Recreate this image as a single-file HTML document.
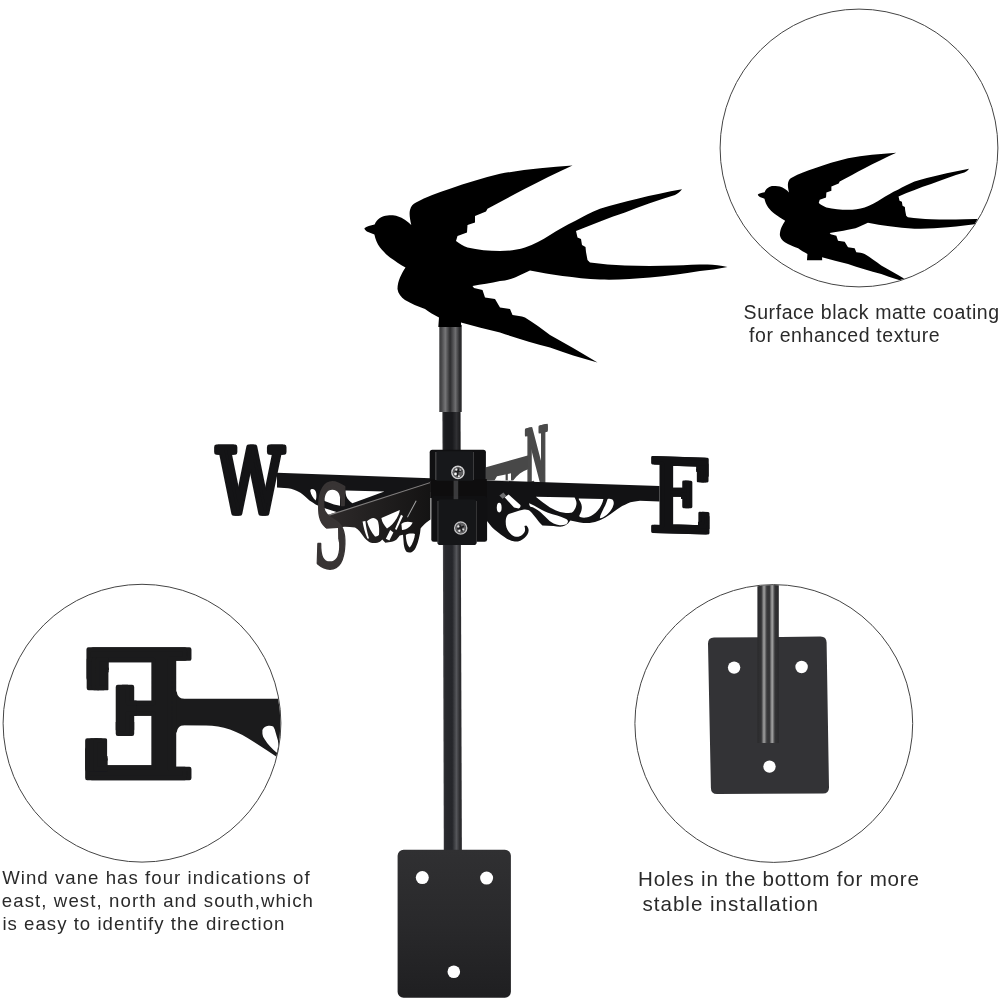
<!DOCTYPE html>
<html lang="en">
<head>
<meta charset="utf-8">
<title>Swallow Weather Vane</title>
<style>
html,body{margin:0;padding:0;background:#fff;}
body{width:1000px;height:1000px;position:relative;overflow:hidden;font-family:"Liberation Sans",sans-serif;color:#2a2a2a;}
#art{will-change:transform;position:absolute;left:0;top:0;width:1000px;height:1000px;display:block;}
.cap{will-change:transform;position:absolute;left:0;top:0;margin:0;white-space:nowrap;line-height:1;}
.cap span{position:absolute;display:block;white-space:pre;line-height:1;}
</style>
</head>
<body>
<svg id="art" width="1000" height="1000" viewBox="0 0 1000 1000">
<defs>
<path id="bird" d="M364.4 228.3 C366.500 226.600 370.500 225.400 374.600 224.600 C377 219 382 215.5 387.5 215.5 C392 215 395 215.5 397.5 216.25 C403 218 408 221.5 411.25 225 C410 219 409 214 410 210 C411 206 413 204 416 202.5 C426 197 438 192.5 450 188.75 C466 183 483 178 500 173.75 C524 169.5 548 167 572.5 165.5 C556 173 540 181 525 188.75 C512 195.5 500 202 487.5 208.75 L486 211.5 L475 216 L475 222.5 L467.5 225 L467 232.5 L457.5 236 L456 241 C460 244 463 246 467.5 247.5 C478 250 489 251 500 251 C509 251 517 250 525 247.5 C534 244.5 542 240 550 235 C558 230 566 225 575 221 C583 216.5 591 212.5 600 208.75 C612 205 625 201.5 637.5 198.75 C652 195 667 192 682 189.25 C680 192 678 193.5 675 195 C658 200 641 206 625 212.5 C608 218 592 224.5 576 231 L577.5 237.5 L581 239 L582 245 L585.5 247 L586 252 L587.5 260 L590 262.5 C602 264 613 265 625 265.5 C641 266 658 266 675 265.5 C686 265 697 264.5 707.5 264.5 C714 264.5 721 265.5 727.5 267 C718 269 709 270 700 271 C683 274 667 276 650 277.5 C633 279 617 280 600 279.5 C587 279 575 277.5 562.5 276 C551 274.5 541 272.5 530 270.5 C525 272.5 520 275.5 515 277.5 C510 279.5 505 280.5 500 281 C491 283 481 284.5 472.5 286 L474 288 L482.5 290 L485 297.5 L495 299 L500 307.5 L510 309 L512.5 315 C517 315.5 521 316 525 317.5 C534 323 542 329 550 335 C566 344 582 353 597.5 362.5 C581 358 565 353 550 347.5 C533 343 516 338 500 332.5 C487 329.5 474 326 461 322.5 L461.2 327 L438.3 327 L439 317.5 C434 315 429 312 425 309 C418 306.5 411 303.5 405 300 C401 297 398 293.5 397.5 289 C397.5 285 398.5 281 400 277.5 C401.5 274 403.5 270.5 405.5 267.5 C400 264.5 395 261 390 257.5 C386 254.5 383 251 380 247.5 C377 243.5 375.400 239.500 374.400 234.600 L367.400 231.800 C365.600 230.800 364.600 229.600 364.400 228.300 Z"/>
<linearGradient id="gpole" x1="0" x2="1" y1="0" y2="0">
<stop offset="0" stop-color="#2a2a2c"/>
<stop offset="0.18" stop-color="#333335"/>
<stop offset="0.31" stop-color="#a2a2a2"/>
<stop offset="0.44" stop-color="#3a3a3c"/>
<stop offset="0.56" stop-color="#333335"/>
<stop offset="0.69" stop-color="#a8a8a8"/>
<stop offset="0.82" stop-color="#333335"/>
<stop offset="1" stop-color="#2a2a2c"/>
</linearGradient>
<linearGradient id="gsleeve" x1="0" x2="1" y1="0" y2="0">
<stop offset="0" stop-color="#3a3a3c"/>
<stop offset="0.1" stop-color="#48484a"/>
<stop offset="0.27" stop-color="#757577"/>
<stop offset="0.48" stop-color="#2c2c2e"/>
<stop offset="0.72" stop-color="#6e6e70"/>
<stop offset="0.9" stop-color="#2d2d2f"/>
<stop offset="1" stop-color="#2a2a2c"/>
</linearGradient>
<linearGradient id="gmain" x1="0" x2="1" y1="0" y2="0">
<stop offset="0" stop-color="#56565a"/>
<stop offset="0.12" stop-color="#292a2e"/>
<stop offset="0.5" stop-color="#25262a"/>
<stop offset="0.72" stop-color="#55565a"/>
<stop offset="0.9" stop-color="#2a2a2d"/>
<stop offset="1" stop-color="#303033"/>
</linearGradient>
<linearGradient id="gplate" x1="0" x2="0" y1="0" y2="1"><stop offset="0" stop-color="#303032"/><stop offset="0.5" stop-color="#29292b"/><stop offset="1" stop-color="#1f1f21"/></linearGradient>
<linearGradient id="gsouth" gradientUnits="userSpaceOnUse" x1="322" x2="431" y1="0" y2="0"><stop offset="0" stop-color="#302c2c"/><stop offset="0.5" stop-color="#211f1f"/><stop offset="1" stop-color="#141313"/></linearGradient>
<clipPath id="c1"><circle cx="859" cy="148" r="138.4"/></clipPath>
<clipPath id="k1"><rect x="80" y="656" width="28.400" height="37.500"/></clipPath>
<clipPath id="k2"><rect x="80" y="735" width="27.300" height="40"/></clipPath>
<clipPath id="k3"><rect x="115" y="683" width="21.500" height="57"/></clipPath>
<clipPath id="k4"><rect x="115" y="722" width="20.200" height="20"/></clipPath>
<clipPath id="k5"><rect x="696.500" y="463" width="15" height="20.500"/></clipPath>
<clipPath id="k6"><rect x="698" y="509" width="14" height="20"/></clipPath>
<clipPath id="k7"><rect x="681" y="479.300" width="12.200" height="31.500"/></clipPath>
<clipPath id="c2"><circle cx="142" cy="723.2" r="138.4"/></clipPath>
<clipPath id="c3"><circle cx="773.8" cy="723.5" r="138.4"/></clipPath>
</defs>

<!-- main pole -->
<path d="M442.500 410 L460.400 410 L461.900 852 L443.800 852 Z" fill="url(#gmain)"/>
<path d="M442.500 411.500 L460.400 411.500 L460.550 451 L442.650 451 Z" fill="#0c0c0e" opacity="0.5"/>
<rect x="439.3" y="325" width="22.4" height="87" fill="url(#gsleeve)"/>
<!-- base plate -->
<rect x="397.6" y="849.7" width="113.3" height="148.1" rx="6" fill="url(#gplate)"/>
<circle cx="422.3" cy="877.6" r="6.5" fill="#fff"/>
<circle cx="486.6" cy="878.1" r="6.5" fill="#fff"/>
<circle cx="453.8" cy="971.7" r="6.3" fill="#fff"/>
<!-- ===== weather vane arms ===== -->
<g id="vane">
<!-- north arm (far, grey) -->
<g id="north">
<path d="M486 467.2 L528.6 455.2 L528.6 469 C522 471.5 517 475 513.2 480.4 L486 480.4 Z" fill="#484848"/>
<path d="M497 476.2 L505.6 474.6 L505.6 480.4 L494.5 480.4 Z M507.8 474 L511 473.2 L511 480.4 L507.8 480.4 Z" fill="#fff"/>
<text id="ltrN" transform="matrix(0.1295 -0.0285 0 0.40 524.35 489)" font-family="DejaVu Serif, Liberation Serif, serif" font-size="200" fill="#4a4a4a" stroke="#4a4a4a" stroke-width="10" stroke-linejoin="round">N</text>
<use href="#ltrN" transform="translate(1.50 -0.30)"/>
</g>
<!-- west arm -->
<g id="west" fill="#141416">
<path d="M277 472.8 L430.5 478.2 L430.5 492 L340 513 C330 510 322 507.4 315.6 504.4 C312 502.4 309.6 500.6 308.4 499.6 C304.6 495.6 301.6 493.4 300 492.4 C296 490.2 292 488.7 288 488.2 L277 487.4 Z"/>
<path d="M345.4 490.6 L384.4 491.4 L352.4 503.2 C349.500 501.500 347.400 499 346.200 496 C345.600 494 345.300 492.200 345.400 490.600 Z" fill="#fff"/>
<path d="M322 488 L340 488 L340 505.800 L334 504.600 L324.600 501 Z" fill="#fff"/>
<path d="M311.2 489.2 C313.5 488.6 315.6 490 316.2 493 C316.6 496 316.4 498.6 315.6 500.4 C313 498 311 494.5 310.4 491.4 C310.2 490.2 310.5 489.5 311.2 489.2 Z" fill="#fff"/>
<text id="ltrW" transform="matrix(0.326 0 0 0.453 215.8 513.1)" font-family="DejaVu Serif, Liberation Serif, serif" font-size="200" stroke="#141416" stroke-width="12" stroke-linejoin="round">W</text>
<use href="#ltrW" transform="translate(2 0)"/>
</g>
<!-- east arm -->
<g id="east" fill="#121214">
<path d="M486 480.4 L659.5 486 L659.5 501.4 L640 500.8 C635 501.2 631 502 628 503.2 C624 505 620 507 617.2 509.2 L610 514.6 C607 516.8 604 518.6 600.4 520 C597 521.6 593 522.6 589.6 523 C586 523.2 583 523 580 522.4 L570.4 520.6 L568 523.6 C566 525.2 564 526.2 562 526.6 C559 526.8 556 526.4 553.6 526 L542.4 525.4 C540 523 538 521 536 518 C534 515.5 532.5 513.5 531 512 C529 510 527 509.4 524 509.6 L519.6 510.4 L508.8 514 C507 515 506 517.5 505.8 520 C505.6 523 505.8 525 506.4 527.2 C507.5 530 508.5 531.6 510 533.2 C512 535.4 514 536.6 516 536.8 C518.5 537 520.5 536.3 522 535 C523.5 534 524.6 532.5 525 530.8 C525.2 529 525 527.5 524.4 526 L526.2 525.4 C528 527 528.8 528.8 528.6 530.8 C528.4 533.5 527 536 524.4 538 C521.5 540.5 518.5 541.8 514.8 541.6 C511 541 507 539.2 504 536.8 C499.5 533.5 495.5 530.5 492 527.2 L487.2 521.2 L486 521 Z"/>
<g fill="#fff">
<path d="M535.8 496.8 L574.6 497.6 C576 500 576.8 502.4 576.4 504.4 C576 507 575 509 574 510.4 C573 511.8 571.8 512.6 570.4 512.8 C568.4 513.1 566.4 513.1 564.4 512.8 C561.5 512.3 558.6 511.4 556 510.4 C553.9 509.5 551.9 508.5 550 507.4 C545.4 504.6 540.6 501 535.8 496.8 Z"/>
<path d="M578.8 498.4 L603.4 499 C603.1 501 602.5 502.8 601.6 504.4 C600 507.8 598 510.6 595.6 512.8 C592.6 515.4 589.4 517 586 517.6 C584 517.9 582 517.7 580 517 C579.3 516.6 579.2 516 579.4 515.2 C581 512.6 581.9 509.8 581.8 506.8 C581.6 504.2 580.6 501.8 578.8 499.6 Z"/>
<path d="M607.6 499 C609.4 498.6 611 498.8 612.4 499.6 C613.6 500.8 614 502.4 613.6 504.4 C612.9 507 611.7 509.4 610 511.6 C607.9 514.2 605.5 516.2 602.8 517.6 C601.7 518.1 600.7 518.3 599.8 518.2 C600 516.4 600.6 514.6 601.6 512.8 C602.6 510.4 603.8 508 605.2 505.6 C606 503.6 606.8 501.4 607.6 499 Z"/>
<path d="M529.200 503.200 L534 505.400 L541 509.500 C543.400 510.800 545.600 512 548 512.800 C551 514 554 514.800 557.200 515.600 C560 516.400 563 517.400 565.600 518.800 C567 519.400 567.800 520.200 568 521.200 C567.800 522.800 567 524 565.600 524.600 C563.600 525.200 561.600 525.400 559.600 525.200 C557.400 525 555.400 524.400 553.600 523.600 C552.200 522.800 550.800 522 549.600 521 L545 516.500 L540 511.800 C538.400 510.400 536.800 509.200 535 508.400 C533.600 507.600 532 507 530.400 506.800 C529.400 505.600 529 504.400 529.200 503.200 Z"/>
<ellipse cx="499.2" cy="507.6" rx="2.4" ry="4.8"/>
<path d="M504.6 497.2 L508.6 494.6 L520.4 505 C520.8 506.6 520.2 507.8 518.6 508.4 L514 507.6 Z"/>
</g>
<path d="M499.4 495.6 L503.4 492.6 L506.4 496 L502.6 498.8 Z" fill="#6e6e70"/>
<text id="ltrE" transform="matrix(0.451 0.014 0 0.5066 647.4 531.3)" font-family="DejaVu Serif, Liberation Serif, serif" font-size="200" stroke="#121214" stroke-width="6" stroke-linejoin="round">E</text>
<use href="#ltrE" transform="translate(2.00 0.00)"/>
<rect x="689.4" y="477" width="12.4" height="32" fill="#fff"/>
<g clip-path="url(#k5)"><use href="#ltrE" transform="translate(-2.00 5.20)"/><use href="#ltrE" transform="translate(0.00 5.20)"/><use href="#ltrE" transform="translate(1.80 5.20)"/></g>
<g clip-path="url(#k6)"><use href="#ltrE" transform="translate(-0.80 -3.30)"/><use href="#ltrE" transform="translate(2.00 -3.30)"/></g>
<g clip-path="url(#k7)"><use href="#ltrE" transform="translate(-7.60 1.70)"/><use href="#ltrE" transform="translate(-5.60 1.70)"/></g>
</g>
<!-- south arm (near, dark grey) -->
<g id="south" fill="#2a2727">
<path d="M322.8 516.6 L430.5 482 L430.5 519.6 L427 522 C424 524.600 422 526.600 420.600 528.400 C420.400 531.600 419.800 534.800 419 538 C418.200 541.400 417.200 544.600 415.800 547.600 C414.400 550.400 412.800 552 411 552.400 C409.200 552.800 407.600 552.600 406.200 551.600 C405 549.600 404.200 547.200 403.800 544.400 L403 534.800 L399.800 535.600 L396.600 539.600 C394.600 541 392.400 541.800 390.200 542 L385.400 542.800 L382.200 539.600 C380.800 541.400 379.200 542.400 377.400 542.800 C375.200 543.200 373 543.200 371 542.800 C368.600 541.800 366.400 540.200 364.600 538 L359.800 531.600 C358.400 530 356.800 528.600 355 527.600 C351.600 527 348.200 526.800 344.800 526.800 L326.400 528.600 Z" fill="url(#gsouth)"/>
<path d="M322.800 516.600 L430.500 482 L430.500 483.100 L323.200 517.700 Z" fill="#807e7e"/>
<g fill="#fff">
<path d="M362.600 521.600 L365.400 521 C366 527 367.400 533 369 538.600 L367.400 538.600 C365 533 363.400 527.400 362.600 521.600 Z"/>
<path d="M367 521.200 C369 519.200 371.500 518.200 373.400 518 C376 518.400 377.800 520 378.200 522 C379.200 526.500 379.400 531 379 534.800 C378 536.400 376.500 536.600 375 536.400 C371.500 532.500 368.500 527 367 521.200 Z"/>
<path d="M381.400 518 L399.800 510 C399.500 513 398 516 396.600 518.400 C394 522.500 391 526 387 528.400 C384 525.500 382 522 381.400 518 Z"/>
<path d="M390.200 530 L393.400 532.400 L389.400 540.400 L385.800 538.800 Z"/>
<path d="M401 514.800 L403 516 L396.500 530 L395 529 Z"/>
<path d="M401.400 524 C404 521.500 408 521 412.600 522.500 C411 526.500 407 529.500 402 530 Z"/>
<path d="M405.800 535 C408 533.500 412 533.200 415 534 C414.500 539 412.500 544 409.800 547.600 C407.500 546 406 541 405.800 535 Z"/>
</g>
<path d="M415.800 500.400 L416.600 501 L407.800 517.600 L407 517 Z" fill="#a8a8a8"/>
<text transform="matrix(0.261 0 0 0.57 312.3 566.6) skewX(-4)" font-family="DejaVu Serif, Liberation Serif, serif" font-size="200" fill="#383434" stroke="#383434" stroke-width="4.5" stroke-linejoin="round">S</text>
<path d="M316 519 C318 523 321 526 324 527.600 L326.400 528.800 L338 527.900 L338.200 540.500 C335.500 537.500 332.500 535 329 532.800 C324.500 530 320 527.500 316 525.500 Z" fill="#fff"/>
</g>
</g>

<!-- clamp -->
<g id="clamp">
<rect x="429.7" y="449.7" width="56.2" height="32" rx="2.6" fill="#101012"/>
<rect x="430.2" y="479" width="56.6" height="19" fill="#0e0d0e"/>
<rect x="431.3" y="496" width="55.8" height="45.8" rx="2.4" fill="#101012"/>
<rect x="435.6" y="451.2" width="38.2" height="29.6" rx="1.6" fill="#17181b"/>
<rect x="437.6" y="499.6" width="38.8" height="45.4" rx="1.8" fill="#151618"/>
<rect x="453.6" y="480.6" width="4.6" height="18.6" fill="#4a4a4c" opacity="0.75"/>
<rect x="435.4" y="452" width="0.9" height="28" fill="#5a5a5c"/>
<rect x="473.2" y="452" width="0.7" height="28" fill="#4c4c4e"/>
<rect x="437.5" y="501" width="0.9" height="42" fill="#4a4a4c"/>
<rect x="476" y="501" width="0.7" height="42" fill="#444446"/>
<g transform="translate(457.9 472.4)">
<circle r="7" fill="#0a0a0b"/><circle r="6" fill="none" stroke="#cfcfd1" stroke-width="1.6"/><circle r="5.2" fill="#5e5e60"/>
<path d="M-3.4 -0.4 L3.6 -1.6 M0.600 -4 L-0.600 3.800" stroke="#1c1c1e" stroke-width="1.500" fill="none"/>
<circle cx="-1.600" cy="-2.800" r="1.100" fill="#f2f2f2"/><circle cx="-2.400" cy="1.500" r="1.300" fill="#fafafa"/><circle cx="1" cy="3.900" r="1" fill="#ececec"/><circle cx="2.400" cy="-2.200" r="0.900" fill="#a8a8aa"/>
</g>
<g transform="translate(460.7 528)">
<circle r="7" fill="#0a0a0b"/><circle r="6" fill="none" stroke="#c0c0c2" stroke-width="1.6"/><circle r="5.2" fill="#626264"/>
<path d="M-3.400 1 L3.400 -1.800 M-1 -3.600 L1.600 3.600" stroke="#1c1c1e" stroke-width="1.500" fill="none"/>
<circle cx="-2.400" cy="-1.600" r="1.100" fill="#e8e8e8"/><circle cx="-1.400" cy="2.800" r="1.100" fill="#f0f0f0"/><circle cx="2.600" cy="1.600" r="1" fill="#dcdcdc"/>
</g>
</g>
<!-- bird -->
<use href="#bird" fill="#000"/>

<!-- circle 1 -->
<g clip-path="url(#c1)"><use href="#bird" fill="#000" transform="translate(515.5 42.8) scale(0.665)"/></g>
<circle cx="859" cy="148" r="138.9" fill="none" stroke="#444" stroke-width="1"/>
<!-- circle 2 -->
<g clip-path="url(#c2)" fill="#1b1b1c">
<path d="M170 698.8 L290 698.8 L290 770 L276.2 756.4 L266 749.8 L254 742 C250 739.4 246 737 242 734.8 C238 732.8 234 731 230 729.4 C226 728 222 727 218 726.4 C214 725.800 210 725.500 206 725.400 L170 725.200 Z"/>
<path d="M184.500 699 Q177.600 698.600 176.600 691.500 L174 691.500 L174 699 Z M184.500 725.100 Q177.600 725.400 176.600 732.500 L174 732.500 L174 725.100 Z"/>
<path d="M262.400 730 C263.600 727.600 265.600 726.200 268.400 725.800 C270.200 725.600 271.800 725.800 273.200 726.400 C274.400 728.200 275.200 730.200 275.600 732.400 L278 740.800 C278.400 745 278 749 276.800 752.800 C272 749 268 744.600 264.800 739.600 C263.400 737.800 262.600 735.800 262.400 733.600 Z" fill="#fff"/>
<text id="ltrE2" transform="matrix(-0.8218 0 0 0.8775 198.39 777.8)" font-family="DejaVu Serif, Liberation Serif, serif" font-size="200" stroke="#1b1b1c" stroke-width="5" stroke-linejoin="round">E</text>
<use href="#ltrE2" transform="translate(-4.50 0.00)"/>
<rect x="99" y="682" width="22.5" height="53" fill="#fff"/>
<g clip-path="url(#k1)"><use href="#ltrE2" transform="translate(-4.19 10.40)"/><use href="#ltrE2" transform="translate(1.01 10.40)"/><use href="#ltrE2" transform="translate(4.81 10.40)"/></g>
<g clip-path="url(#k2)"><use href="#ltrE2" transform="translate(-4.49 -8.50)"/><use href="#ltrE2" transform="translate(-0.39 -8.50)"/><use href="#ltrE2" transform="translate(3.81 -8.50)"/></g>
<g clip-path="url(#k3)"><use href="#ltrE2" transform="translate(13.71 0.00)"/><use href="#ltrE2" transform="translate(9.21 0.00)"/></g>
<g clip-path="url(#k4)"><use href="#ltrE2" transform="translate(13.71 4.40)"/><use href="#ltrE2" transform="translate(9.21 4.40)"/></g>
</g>
<circle cx="142" cy="723.2" r="138.9" fill="none" stroke="#444" stroke-width="1"/>
<!-- circle 3 -->
<g clip-path="url(#c3)">
<path d="M708 643.6 Q708 637.6 714 637.6 L820.5 636.6 Q826.5 636.6 826.6 642.6 L829 787.5 Q829 793.5 823 793.6 L717 794 Q711 794 710.9 788 Z" fill="#333336"/>
<circle cx="734.1" cy="667.6" r="6.2" fill="#fff"/>
<circle cx="801.6" cy="667" r="6.2" fill="#fff"/>
<circle cx="769.5" cy="766.6" r="6.2" fill="#fff"/>
<rect x="757.4" y="580" width="21.4" height="163" fill="url(#gpole)"/>
</g>
<circle cx="773.8" cy="723.5" r="138.9" fill="none" stroke="#444" stroke-width="1"/>
</svg>

<div class="cap" id="t1" style="font-size:19.5px;letter-spacing:0.57px;">
<span style="left:743.6px;top:303px;">Surface black matte coating</span>
<span style="left:749px;top:326px;letter-spacing:0.62px;">for enhanced texture</span>
</div>
<div class="cap" id="t2" style="font-size:18.6px;letter-spacing:1.05px;">
<span style="left:2.2px;top:869px;">Wind vane has four indications of</span>
<span style="left:1.8px;top:892px;letter-spacing:1.1px;">east, west, north and south,which</span>
<span style="left:2.4px;top:915px;letter-spacing:1.03px;">is easy to identify the direction</span>
</div>
<div class="cap" id="t3" style="font-size:20.6px;letter-spacing:0.78px;">
<span style="left:638px;top:869px;">Holes in the bottom for more</span>
<span style="left:642.6px;top:894px;letter-spacing:0.96px;">stable installation</span>
</div>
</body>
</html>
